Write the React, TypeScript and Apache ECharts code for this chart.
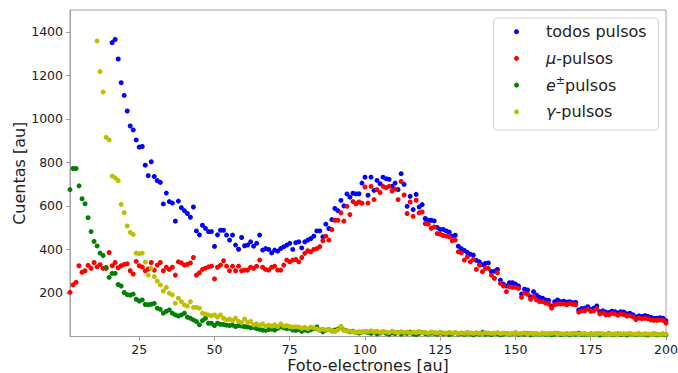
import React, { useEffect, useRef } from "react";
import * as echarts from "echarts";

// x runs 1 photo-electron per point
const RED_START = 2;
const muPulsos = [
  203, 237, 249, 325, 295, 302, 327, 313, 340, 320,
  330, 313, 313, 386, 325, 340, 316, 325, 331, 334,
  302, 287, 345, 325, 319, 302, 310, 340, 305, 328,
  340, 302, 318, 308, 318, 282, 343, 338, 328, 332,
  338, 363, 282, 293, 308, 314, 320, 323, 265, 318,
  328, 348, 323, 302, 323, 302, 323, 302, 305, 305,
  318, 313, 323, 351, 318, 308, 305, 318, 323, 305,
  305, 328, 351, 343, 351, 354, 343, 363, 382, 394,
  389, 400, 404, 413, 440, 461, 443, 491, 534, 534,
  568, 530, 598, 560, 620, 610, 618, 612, 687, 613,
  690, 629, 675, 661, 690, 684, 690, 668, 677, 629,
  712, 650, 565, 618, 552, 626, 568, 572, 519, 516,
  497, 503, 473, 470, 464, 461, 458, 440, 443, 389,
  384, 351, 366, 343, 354, 308, 328, 298, 313, 313,
  282, 267, 293, 244, 232, 206, 229, 226, 226, 221,
  180, 199, 194, 171, 183, 168, 160, 160, 153, 150,
  130, 145, 150, 150, 150, 146, 152, 148, 146, 112,
  118, 118, 126, 116, 118, 128, 104, 108, 100, 100,
  106, 104, 98, 104, 100, 94, 96, 90, 78, 85,
  82, 84, 82, 76, 74, 74, 76, 74, 62,
];

const BLUE_START = 16;
const todosPulsos = [
  1350, 1365, 1275, 1166, 1108, 1036, 967, 949, 903, 870,
  873, 787, 739, 803, 735, 716, 708, 609, 659, 620,
  613, 530, 622, 592, 578, 565, 548, 595, 485, 467,
  511, 497, 482, 482, 414, 467, 488, 488, 466, 443,
  466, 420, 401, 455, 417, 420, 435, 415, 428, 466,
  397, 404, 400, 384, 397, 392, 404, 412, 420, 428,
  400, 431, 435, 407, 435, 443, 450, 461, 485, 485,
  458, 516, 496, 537, 588, 578, 625, 600, 655, 640,
  658, 655, 656, 705, 732, 649, 732, 671, 717, 702,
  732, 725, 722, 690, 705, 675, 748, 699, 598, 644,
  583, 653, 595, 606, 542, 534, 534, 531, 501, 492,
  492, 485, 479, 461, 465, 415, 404, 395, 386, 378,
  374, 350, 343, 330, 336, 338, 298, 300, 308, 259,
  241, 232, 247, 247, 241, 232, 195, 217, 214, 183,
  206, 190, 180, 176, 168, 166, 140, 160, 168, 160,
  162, 158, 160, 155, 157, 122, 128, 130, 137, 125,
  130, 140, 114, 118, 112, 110, 116, 114, 108, 114,
  112, 104, 107, 100, 89, 95, 92, 96, 92, 88,
  84, 84, 86, 84, 73,
];

const GREEN_START = 2;
const ePulsos = [
  675, 772, 772, 692, 633, 610, 546, 482, 437, 416,
  383, 372, 317, 272, 290, 290, 239, 232, 202, 192,
  190, 195, 171, 163, 168, 147, 146, 148, 152, 130,
  125, 107, 116, 122, 107, 99, 94, 99, 107, 89,
  84, 76, 69, 54, 73, 84, 61, 61, 50, 61,
  56, 55, 52, 50, 52, 46, 50, 48, 46, 44,
  40, 42, 36, 33, 30, 28, 32, 34, 30, 38,
  44, 40, 36, 38, 30, 28, 32, 24, 30, 26,
  31, 36, 44, 30, 22, 28, 32, 26, 30, 34,
  44, 30, 26, 22, 24, 18, 16, 20, 22,
  18, 14, 20, 12, 16, 22, 15, 10, 17, 13,
  19, 11, 16, 14, 20, 12, 9, 15, 18, 13,
  11, 16, 14, 10, 17, 12, 15, 9, 13, 18,
  11, 14, 10, 16, 12, 8, 14, 11, 19, 10,
  13, 9, 15, 12, 8, 11, 14, 10, 13, 16,
  9, 12, 10, 14, 8, 11, 13, 9, 15, 10,
  12, 8, 11, 14, 9, 10, 13, 8, 12, 10,
  15, 9, 11, 8, 13, 10, 12, 7, 11, 9,
  14, 8, 10, 12, 9, 11, 7, 13, 10, 8,
  12, 9, 11, 7, 10, 13, 8, 9, 11, 8,
];

const YELLOW_START = 11;
const gammaPulsos = [
  1358, 1217, 1123, 915, 903, 737, 729, 716, 607, 569,
  508, 478, 469, 383, 381, 383, 342, 282, 313, 275,
  255, 237, 209, 226, 199, 191, 153, 176, 160, 145,
  140, 160, 134, 134, 130, 107, 103, 99, 95, 99,
  89, 99, 84, 76, 80, 73, 84, 69, 64, 80,
  64, 69, 54, 58, 50, 58, 46, 52, 48, 54,
  46, 58, 48, 50, 46, 43, 45, 44, 38, 42,
  36, 43, 40, 34, 31, 34, 30, 32, 28, 23,
  30, 46, 28, 26, 24, 22, 18, 22, 20, 24,
  22, 26, 20, 24, 19, 23, 21, 18, 25, 20,
  17, 22, 19, 21, 16, 20, 18, 23, 17, 19,
  15, 21, 18, 16, 20, 17, 15, 19, 16, 18,
  14, 17, 15, 19, 16, 14, 18, 15, 13, 17,
  16, 14, 15, 18, 13, 16, 14, 12, 15, 17,
  13, 14, 16, 12, 15, 13, 14, 11, 15, 13,
  12, 14, 16, 12, 13, 11, 14, 12, 13, 15,
  11, 12, 14, 10, 13, 12, 11, 14, 12, 10,
  13, 11, 12, 10, 13, 11, 12, 14, 10, 11,
  12, 10, 13, 11, 10, 12, 11, 10, 12, 11,
];

const xTicks = [25, 50, 75, 100, 125, 150, 175, 200];
const yTicks = [200, 400, 600, 800, 1000, 1200, 1400];

const seriesDefs = [
  { name: "todos pulsos", start: BLUE_START, values: todosPulsos, color: "#0000ff" },
  { name: "μ-pulsos", start: RED_START, values: muPulsos, color: "#ff0000" },
  { name: "e±pulsos", start: GREEN_START, values: ePulsos, color: "#008000" },
  { name: "γ-pulsos", start: YELLOW_START, values: gammaPulsos, color: "#bfbf00" },
];

const legendTexts = [
  "todos pulsos",
  "{i|μ}-pulsos",
  "{i|e}{sup|±}pulsos",
  "{i|γ}-pulsos",
];

const FONT = "DejaVu Sans";
const AXIS_COLOR = "#a0a0a0";
const TEXT_COLOR = "#222";

export default function App() {
  const ref = useRef<HTMLDivElement>(null);
  useEffect(() => {
    if (!ref.current) return;
    const chart = echarts.init(ref.current, null, { renderer: "svg" });
    const legendTop = 18;
    const rowH = 26.7;
    const graphic: any[] = [
      {
        type: "rect",
        shape: { x: 493.5, y: legendTop, width: 165, height: 112, r: 4 },
        style: { fill: "rgba(255,255,255,0.85)", stroke: "#d4d4d4", lineWidth: 1 },
        z: 100,
      },
    ];
    seriesDefs.forEach((s, i) => {
      const cy = legendTop + 13.7 + i * rowH;
      graphic.push({
        type: "circle",
        shape: { cx: 516.5, cy, r: 2.5 },
        style: { fill: s.color },
        z: 101,
      });
      graphic.push({
        type: "text",
        x: 546,
        y: cy,
        style: {
          text: legendTexts[i],
          fontSize: 16,
          fontFamily: FONT,
          fill: TEXT_COLOR,
          verticalAlign: "middle",
          lineHeight: 20,
          rich: {
            i: { fontStyle: "italic", fontSize: 16, fontFamily: FONT, fill: TEXT_COLOR, lineHeight: 20 },
            sup: { fontSize: 11, fontFamily: FONT, fill: TEXT_COLOR, verticalAlign: "top", lineHeight: 20 },
          },
        },
        z: 101,
      });
    });

    chart.setOption({
      animation: false,
      grid: {
        left: 70,
        right: 12,
        top: 10,
        bottom: 36.5,
        show: true,
        borderColor: AXIS_COLOR,
        borderWidth: 1,
        containLabel: false,
        outerBoundsMode: "none",
      },
      xAxis: {
        type: "value",
        min: 2,
        max: 200,
        name: "Foto-electrones [au]",
        nameLocation: "middle",
        nameGap: 21,
        nameMoveOverlap: false,
        nameTextStyle: { fontSize: 16, color: TEXT_COLOR, fontFamily: FONT, lineHeight: 15 },
        axisLine: { show: true, lineStyle: { color: AXIS_COLOR } },
        axisTick: { show: true, customValues: xTicks, length: 4, lineStyle: { color: AXIS_COLOR } },
        axisLabel: {
          customValues: xTicks,
          fontSize: 12.5,
          color: TEXT_COLOR,
          fontFamily: FONT,
          margin: 6,
          lineHeight: 14,
          formatter: (v: number) => String(v),
        },
        splitLine: { show: false },
      },
      yAxis: {
        type: "value",
        min: 0,
        max: 1500,
        name: "Cuentas [au]",
        nameLocation: "middle",
        nameGap: 42,
        nameMoveOverlap: false,
        nameTextStyle: { fontSize: 16, color: TEXT_COLOR, fontFamily: FONT, lineHeight: 18 },
        axisLine: { show: true, lineStyle: { color: AXIS_COLOR } },
        axisTick: { show: true, customValues: yTicks, length: 4, lineStyle: { color: AXIS_COLOR } },
        axisLabel: {
          customValues: yTicks,
          fontSize: 12.5,
          color: TEXT_COLOR,
          fontFamily: FONT,
          margin: 7,
          formatter: (v: number) => String(v),
        },
        splitLine: { show: false },
      },
      series: seriesDefs.map((s) => ({
        type: "scatter",
        name: s.name,
        symbol: "circle",
        symbolSize: 5,
        clip: true,
        itemStyle: { color: s.color, opacity: 1 },
        data: s.values.map((v, i) => [s.start + i, v]),
      })),
      graphic,
    });
    return () => chart.dispose();
  }, []);
  return (
    <div
      ref={ref}
      style={{ position: "fixed", left: 0, top: 0, width: 678, height: 373, background: "#fff" }}
    />
  );
}
